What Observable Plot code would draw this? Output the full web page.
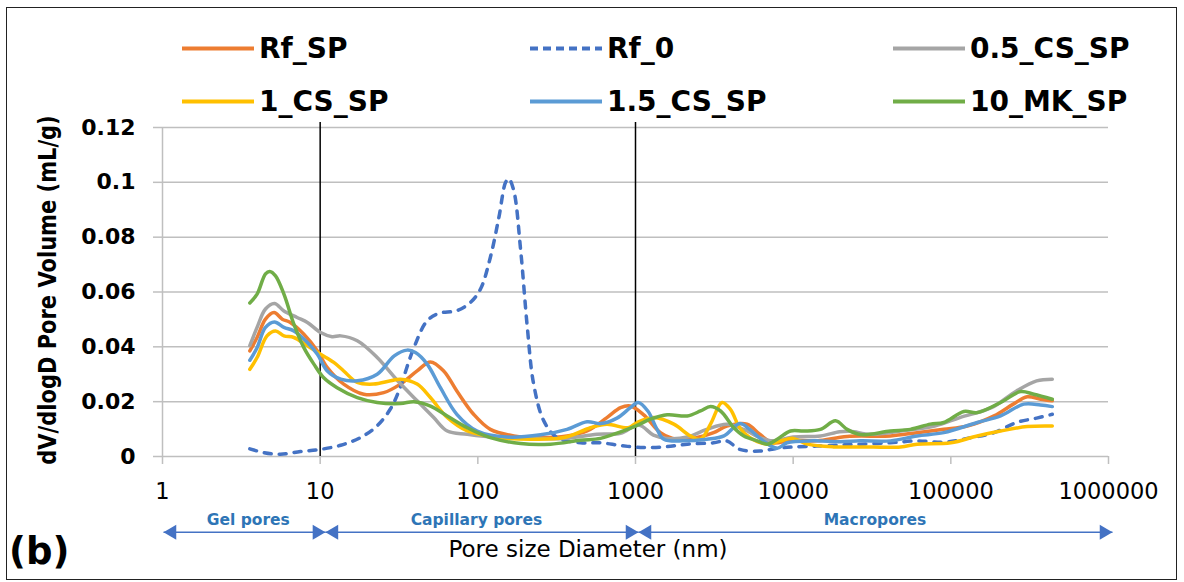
<!DOCTYPE html>
<html>
<head>
<meta charset="utf-8">
<script src="https://cdn.jsdelivr.net/npm/d3@7"></script>
<script src="https://cdn.jsdelivr.net/npm/@observablehq/plot@0.6"></script>
<style>
  body { margin: 0; background: #fff; }
  #wrap { position: relative; width: 1184px; height: 582px; overflow: hidden; background: #fff; font-family: "DejaVu Sans", sans-serif; color: #000; }
  #chart { position: absolute; left: 0; top: 0; }
  #frame { position: absolute; left: 6px; top: 7px; width: 1171px; height: 573px; border: 1.5px solid #222; box-sizing: border-box; pointer-events: none; }
  .item { position: absolute; display: flex; align-items: center; transform: translateY(-50%); font-weight: bold; font-size: 28px; white-space: nowrap; }
  .item svg { margin-right: 5px; }
  #ytitle { position: absolute; left: 48px; top: 290px; transform: translate(-50%, -50%) rotate(-90deg) scaleY(1.15); font-weight: bold; font-size: 21px; white-space: nowrap; }
  #xtitle { position: absolute; left: 588px; top: 549px; transform: translate(-50%, -50%); font-size: 23px; white-space: nowrap; }
  #panel { position: absolute; left: 9px; top: 551px; transform: translateY(-50%); font-weight: bold; font-size: 37px; }
</style>
</head>
<body>
<div id="wrap">
  <div id="chart"></div>
  <div id="legend"></div>
  <div id="ytitle">dV/dlogD Pore Volume (mL/g)</div>
  <div id="xtitle">Pore size Diameter (nm)</div>
  <div id="panel">(b)</div>
  <div id="frame"></div>
</div>
<script>
// ---- axis ticks ----
const xTicks = [1, 10, 100, 1000, 10000, 100000, 1000000];
const yTicks = [0, 0.02, 0.04, 0.06, 0.08, 0.1, 0.12];

// ---- series names / colours ----
const seriesNames = ["Rf_SP", "Rf_0", "0.5_CS_SP", "1_CS_SP", "1.5_CS_SP", "10_MK_SP"];
const seriesColors = ["#ED7D31", "#4472C4", "#A5A5A5", "#FFC000", "#5B9BD5", "#70AD47"];

// ---- Rf_SP ----
const rfSP_x = [3.58, 3.98, 4.5, 5.1, 5.75, 6.47, 7.88, 9.6, 11.1, 14.1, 18.9, 25.3, 32.3, 41.2, 50, 60.7, 73.6, 94, 120, 169, 250, 368, 493, 659, 804, 927, 1128, 1440, 1830, 2450, 3128, 3790, 5100, 6140, 7440, 9620, 14100, 22000, 41400, 61000, 90200, 127000, 188000, 249000, 305000, 371000, 440000];
const rfSP_y = [0.0385, 0.0434, 0.0501, 0.0525, 0.0501, 0.0489, 0.0446, 0.0385, 0.0324, 0.0264, 0.0227, 0.0233, 0.0264, 0.0312, 0.0345, 0.0312, 0.0239, 0.0154, 0.0099, 0.0075, 0.0069, 0.0075, 0.0093, 0.0142, 0.0178, 0.0184, 0.0152, 0.0087, 0.0063, 0.0069, 0.0087, 0.0111, 0.0118, 0.0081, 0.0050, 0.0059, 0.0057, 0.0073, 0.0075, 0.0087, 0.0099, 0.0111, 0.0148, 0.0191, 0.0218, 0.0209, 0.0203];

// ---- Rf_0 ----
const rf0_x = [3.58, 4.4, 5.6, 7.5, 10.06, 13.5, 18, 23, 28, 31.6, 39.3, 47.7, 56.5, 73.6, 89.8, 104, 120, 136, 150, 157, 169, 187, 206, 226, 262, 318, 448, 600, 804, 1075, 1514, 2128, 3128, 3790, 4580, 6140, 7920, 10000, 14100, 19700, 26700, 41400, 61000, 90200, 127000, 188000, 261000, 350000, 440000];
const rf0_y = [0.0028, 0.0014, 0.0008, 0.0018, 0.0026, 0.0041, 0.0069, 0.0112, 0.0175, 0.0240, 0.0397, 0.0495, 0.0522, 0.0532, 0.0562, 0.0611, 0.0726, 0.0872, 0.1000, 0.1013, 0.0970, 0.0751, 0.0471, 0.0264, 0.0130, 0.0069, 0.0050, 0.0050, 0.0040, 0.0033, 0.0035, 0.0045, 0.0050, 0.0057, 0.0026, 0.0020, 0.0030, 0.0035, 0.0038, 0.0042, 0.0045, 0.0050, 0.0057, 0.0052, 0.0066, 0.0087, 0.0124, 0.0140, 0.0154];

// ---- 0.5_CS_SP ----
const cs05_x = [3.58, 3.98, 4.5, 5.13, 5.89, 7.14, 8.3, 10.06, 11.9, 13.5, 17.2, 23, 30.8, 41.2, 52.5, 64, 85.7, 133, 216, 352, 570, 804, 1050, 1300, 1589, 2128, 2830, 3790, 4868, 6140, 7440, 10000, 14900, 19700, 23100, 30900, 48000, 79000, 114000, 181000, 261000, 350000, 440000];
const cs05_y = [0.0404, 0.0471, 0.0538, 0.0558, 0.0531, 0.0507, 0.0489, 0.0452, 0.0437, 0.0440, 0.0422, 0.0361, 0.0278, 0.0203, 0.0142, 0.0093, 0.0081, 0.0069, 0.0066, 0.0066, 0.0081, 0.0085, 0.0115, 0.0078, 0.0066, 0.0071, 0.0099, 0.0118, 0.0099, 0.0069, 0.0057, 0.0071, 0.0075, 0.0090, 0.0092, 0.0081, 0.0093, 0.0111, 0.0142, 0.0178, 0.0239, 0.0276, 0.0282];

// ---- 1_CS_SP ----
const cs1_x = [3.58, 3.98, 4.6, 5.21, 5.89, 6.81, 8.3, 10.06, 12.2, 14.1, 17.2, 21.8, 28, 32.3, 41.2, 50, 64, 85.7, 133, 216, 352, 518, 659, 900, 1025, 1310, 1750, 2230, 2585, 2990, 3540, 4000, 4580, 5300, 6840, 8300, 10000, 12300, 18000, 26700, 48000, 61000, 100000, 147000, 207000, 305000, 440000];
const cs1_y = [0.0318, 0.0361, 0.0440, 0.0458, 0.0440, 0.0434, 0.0404, 0.0373, 0.0343, 0.0312, 0.0270, 0.0264, 0.0276, 0.0282, 0.0264, 0.0215, 0.0142, 0.0093, 0.0069, 0.0063, 0.0069, 0.0105, 0.0118, 0.0105, 0.0124, 0.0142, 0.0118, 0.0075, 0.0063, 0.0118, 0.0197, 0.0172, 0.0105, 0.0069, 0.0045, 0.0057, 0.0066, 0.0045, 0.0035, 0.0035, 0.0035, 0.0045, 0.0050, 0.0075, 0.0093, 0.0109, 0.0111];

// ---- 1.5_CS_SP ----
const cs15_x = [3.58, 3.98, 4.5, 5.13, 5.89, 6.81, 8.3, 9.6, 11.1, 13.5, 17.2, 23, 29.5, 35.6, 40.2, 47.7, 57.9, 73.6, 99, 153, 250, 368, 493, 600, 763, 927, 1040, 1200, 1367, 1514, 2030, 2830, 3640, 4580, 5300, 6450, 7920, 9140, 13400, 19700, 26700, 41400, 61000, 90200, 147000, 207000, 290000, 371000, 440000];
const cs15_y = [0.0351, 0.0397, 0.0471, 0.0491, 0.0471, 0.0458, 0.0416, 0.0373, 0.0312, 0.0282, 0.0276, 0.0300, 0.0367, 0.0388, 0.0379, 0.0337, 0.0251, 0.0154, 0.0093, 0.0071, 0.0079, 0.0099, 0.0127, 0.0120, 0.0140, 0.0178, 0.0197, 0.0165, 0.0100, 0.0063, 0.0057, 0.0063, 0.0075, 0.0120, 0.0099, 0.0057, 0.0030, 0.0050, 0.0057, 0.0054, 0.0057, 0.0057, 0.0075, 0.0087, 0.0124, 0.0148, 0.0191, 0.0188, 0.0182];

// ---- 10_MK_SP ----
const mk10_x = [3.58, 3.98, 4.5, 4.79, 5.21, 5.89, 6.81, 7.88, 9.12, 10.5, 12.8, 17.2, 23, 32.3, 39.3, 50.1, 63.9, 85.7, 120, 187, 289, 448, 600, 780, 1000, 1245, 1589, 2128, 2585, 2990, 3463, 4206, 4868, 5914, 6843, 7922, 9620, 11700, 14900, 18550, 22000, 26700, 41400, 55400, 74200, 90200, 121000, 147000, 207000, 277000, 336000, 440000];
const mk10_y = [0.0560, 0.0592, 0.0666, 0.0675, 0.0659, 0.0592, 0.0483, 0.0397, 0.0337, 0.0288, 0.0251, 0.0215, 0.0197, 0.0193, 0.0200, 0.0184, 0.0148, 0.0105, 0.0069, 0.0047, 0.0045, 0.0059, 0.0066, 0.0087, 0.0111, 0.0136, 0.0152, 0.0148, 0.0166, 0.0182, 0.0166, 0.0105, 0.0075, 0.0057, 0.0045, 0.0063, 0.0093, 0.0093, 0.0099, 0.0130, 0.0099, 0.0080, 0.0093, 0.0099, 0.0118, 0.0124, 0.0164, 0.0160, 0.0197, 0.0237, 0.0227, 0.0209];

// ---- pore-class annotations ----
const boundaryX = [10, 1000];
const regionLabels = ["Gel pores", "Capillary pores", "Macropores"];
const regionLabelX = [3.5, 98, 33000];
const regionStart = [1.015, 10.8, 1045];
const regionEnd = [10.8, 1045, 1060000];
const regionArrowY = -0.0276;
const regionLabelY = -0.0232;

const seriesX = [rfSP_x, rf0_x, cs05_x, cs1_x, cs15_x, mk10_x];
const seriesY = [rfSP_y, rf0_y, cs05_y, cs1_y, cs15_y, mk10_y];
const seriesDash = [null, "7,8", null, null, null, null];

const gridColor = "#BFBFBF";
const arrowColor = "#4472C4";

const triRight = {draw(ctx, size) { const r = Math.sqrt(size / Math.PI); ctx.moveTo(0, 0); ctx.lineTo(-1.7 * r, -r); ctx.lineTo(-1.7 * r, r); ctx.closePath(); }};
const triLeft = {draw(ctx, size) { const r = Math.sqrt(size / Math.PI); ctx.moveTo(0, 0); ctx.lineTo(1.7 * r, -r); ctx.lineTo(1.7 * r, r); ctx.closePath(); }};

const lineMarks = seriesNames.map((name, k) => {
  const rows = seriesX[k].map((x, i) => ({name, x, y: seriesY[k][i]}));
  return Plot.line(rows, {
    x: "x", y: "y", stroke: seriesColors[k], strokeWidth: 3.5,
    curve: "catmull-rom", strokeDasharray: seriesDash[k] || undefined
  });
});

const idx = regionLabels.map((d, i) => i);

const chart = Plot.plot({
  width: 1184,
  height: 582,
  marginTop: 127,
  marginBottom: 126,
  marginLeft: 162,
  marginRight: 76,
  style: {fontFamily: "DejaVu Sans", background: "transparent", overflow: "visible", color: "#000"},
  x: {type: "log", domain: [1, 1e6]},
  y: {domain: [0, 0.12]},
  marks: [
    Plot.gridY(yTicks.slice(1), {stroke: gridColor, strokeOpacity: 1, strokeWidth: 1.5}),
    Plot.ruleX([1], {stroke: gridColor, strokeWidth: 1.5}),
    Plot.ruleY([0], {stroke: gridColor, strokeWidth: 1.5}),
    Plot.axisY(yTicks, {tickSize: 9, tickPadding: 18, stroke: gridColor, strokeWidth: 1.5, fill: "#000", fontSize: 22, fontWeight: "bold", label: null, tickFormat: d => String(+d.toFixed(2))}),
    Plot.axisX(xTicks, {tickSize: 8, tickPadding: 19, stroke: gridColor, strokeWidth: 1.5, fill: "#000", fontSize: 22.5, label: null, tickFormat: d => String(d)}),
    Plot.ruleX(boundaryX, {y1: 0, y2: 0.1218, stroke: "#000", strokeWidth: 1.5}),
    ...lineMarks,
    Plot.link(idx, {x1: i => regionStart[i], x2: i => regionEnd[i], y1: regionArrowY, y2: regionArrowY, stroke: arrowColor, strokeWidth: 1.5}),
    Plot.dot(regionEnd, {x: d => d, y: regionArrowY, symbol: triRight, r: 7.5, fill: arrowColor, stroke: "none"}),
    Plot.dot(regionStart, {x: d => d, y: regionArrowY, symbol: triLeft, r: 7.5, fill: arrowColor, stroke: "none"}),
    Plot.text(regionLabels, {x: (d, i) => regionLabelX[i], y: regionLabelY, text: d => d, fill: "#2E75B6", fontWeight: "bold", fontSize: 15.5})
  ]
});
document.getElementById("chart").appendChild(chart);

// ---- legend ----
const legendCols = [182, 530, 893];
const legendRows = [48, 101];
const legend = document.getElementById("legend");
seriesNames.forEach((name, k) => {
  const col = k % 3, row = Math.floor(k / 3);
  const item = document.createElement("div");
  item.className = "item";
  item.style.left = legendCols[col] + "px";
  item.style.top = legendRows[row] + "px";
  const dash = seriesDash[k] ? ' stroke-dasharray="8,5"' : '';
  item.innerHTML = `<svg width="72" height="8"><line x1="0" y1="4" x2="72" y2="4" stroke="${seriesColors[k]}" stroke-width="4"${dash}/></svg><span>${name}</span>`;
  legend.appendChild(item);
});
</script>
</body>
</html>
